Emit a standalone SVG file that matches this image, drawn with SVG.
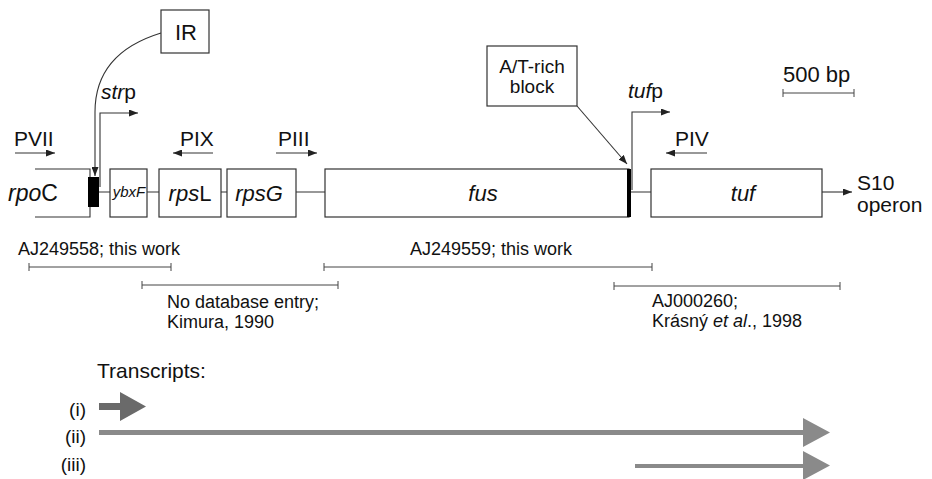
<svg xmlns="http://www.w3.org/2000/svg" width="932" height="479" viewBox="0 0 932 479">
<style>
  .t{font-family:"Liberation Sans",Arial,sans-serif;fill:#111}
  .i{font-style:italic}
  .n{font-style:normal}
  .box{fill:#fff;stroke:#333;stroke-width:1.2}
  .ln{fill:none;stroke:#333;stroke-width:1.1}
  .bar{fill:none;stroke:#444;stroke-width:1}
  .tr1{fill:#6a6a6a}
  .tr2{fill:#8a8a8a}
</style>
<defs>
  <marker id="ah" markerUnits="userSpaceOnUse" markerWidth="9" markerHeight="7" refX="9" refY="3.5" orient="auto">
    <path d="M0,0 L9,3.5 L0,7 z" fill="#222"/>
  </marker>
</defs>
<rect width="932" height="479" fill="#fff"/>

<!-- connectors -->
<g id="connectors">
  <path class="ln" d="M99,192 H110 M147,192 H159 M221,192 H227 M296,192 H325 M631,192 H651"/>
  <path class="ln" d="M822,192 H852" marker-end="url(#ah)"/>
  <path class="ln" d="M161,33 C112,48 95,78 95,112 L95,176" marker-end="url(#ah)"/>
  <path class="ln" d="M577,106 L627,164" marker-end="url(#ah)"/>
  <path class="ln" d="M100,187 V113 H138" marker-end="url(#ah)"/>
  <path class="ln" d="M632,190 V112 H670" marker-end="url(#ah)"/>
  <path class="ln" d="M15,153 H55" marker-end="url(#ah)"/>
  <path class="ln" d="M213,153 H173" marker-end="url(#ah)"/>
  <path class="ln" d="M276,153 H317" marker-end="url(#ah)"/>
  <path class="ln" d="M707,153 H666" marker-end="url(#ah)"/>
</g>

<g id="IR">
  <rect class="box" x="161" y="10" width="48" height="43"/>
  <text class="t" x="186" y="40" font-size="22" text-anchor="middle">IR</text>
</g>
<g id="ATrich">
  <rect class="box" x="487" y="46" width="90" height="60"/>
  <text class="t" x="532" y="73" font-size="19" text-anchor="middle">A/T-rich</text>
  <text class="t" x="532" y="93" font-size="19" text-anchor="middle">block</text>
</g>

<g id="strp"><text class="t" x="101" y="99" font-size="21"><tspan class="i">str</tspan>p</text></g>
<g id="tufp"><text class="t" x="628" y="98" font-size="21"><tspan class="i">tuf</tspan>p</text></g>
<g id="PVII"><text class="t" x="14" y="146" font-size="21">PVII</text></g>
<g id="PIX"><text class="t" x="180" y="146" font-size="21">PIX</text></g>
<g id="PIII"><text class="t" x="278" y="146" font-size="21">PIII</text></g>
<g id="PIV"><text class="t" x="675" y="146" font-size="21">PIV</text></g>

<g id="scale">
  <text class="t" x="783" y="82" font-size="22">500 bp</text>
  <path class="bar" d="M783,93 H854 M783,89 V97 M854,89 V97"/>
</g>

<g id="rpoC">
  <path class="ln" d="M35,169 H90 V217 H35"/>
  <rect x="88" y="177" width="11" height="30" fill="#000"/>
  <text class="t i" x="8" y="201" font-size="23">rpo<tspan class="n">C</tspan></text>
</g>
<g id="ybxF">
  <rect class="box" x="110" y="169" width="37" height="48"/>
  <text class="t i" x="129" y="197" font-size="15" text-anchor="middle">ybxF</text>
</g>
<g id="rpsL">
  <rect class="box" x="159" y="169" width="62" height="48"/>
  <text class="t i" x="190" y="201" font-size="22" text-anchor="middle">rps<tspan class="n">L</tspan></text>
</g>
<g id="rpsG">
  <rect class="box" x="227" y="169" width="69" height="48"/>
  <text class="t i" x="259" y="201" font-size="22" text-anchor="middle">rpsG</text>
</g>
<g id="fus">
  <rect class="box" x="325" y="169" width="304" height="48"/>
  <rect x="627" y="169" width="4" height="48" fill="#000"/>
  <text class="t i" x="483" y="201" font-size="22" text-anchor="middle">fus</text>
</g>
<g id="tuf">
  <rect class="box" x="651" y="169" width="171" height="48"/>
  <text class="t i" x="743" y="201" font-size="22" text-anchor="middle">tuf</text>
</g>
<g id="S10">
  <text class="t" x="857" y="190" font-size="21">S10</text>
  <text class="t" x="857" y="212" font-size="21">operon</text>
</g>

<g id="seq1">
  <text class="t" x="18" y="255" font-size="18">AJ249558; this work</text>
  <path class="bar" d="M29,267 H171 M29,263 V271 M171,263 V271"/>
</g>
<g id="seq2">
  <path class="bar" d="M142,285 H338 M142,281 V289 M338,281 V289"/>
  <text class="t" x="167" y="308" font-size="18">No database entry;</text>
  <text class="t" x="167" y="328" font-size="18">Kimura, 1990</text>
</g>
<g id="seq3">
  <text class="t" x="410" y="255" font-size="18">AJ249559; this work</text>
  <path class="bar" d="M324,267 H652 M324,263 V271 M652,263 V271"/>
</g>
<g id="seq4">
  <path class="bar" d="M614,286 H840 M614,282 V290 M840,282 V290"/>
  <text class="t" x="652" y="307" font-size="18">AJ000260;</text>
  <text class="t" x="652" y="327" font-size="18">Krásný <tspan class="i">et al</tspan>., 1998</text>
</g>

<g id="transcripts">
  <text class="t" x="97" y="378" font-size="21">Transcripts:</text>
  <text class="t" x="86" y="416" font-size="19" text-anchor="end">(i)</text>
  <text class="t" x="86" y="443" font-size="19" text-anchor="end">(ii)</text>
  <text class="t" x="86" y="471" font-size="19" text-anchor="end">(iii)</text>
  <path class="tr1" d="M99,403 H120 V392 L146,406.5 L120,421 V410 H99 z"/>
  <path class="tr2" d="M99,430 H803 V418 L830,432.5 L803,447 V435 H99 z"/>
  <path class="tr2" d="M635,464 H803 V451 L830,465.5 L803,480 V468 H635 z"/>
</g>
</svg>
